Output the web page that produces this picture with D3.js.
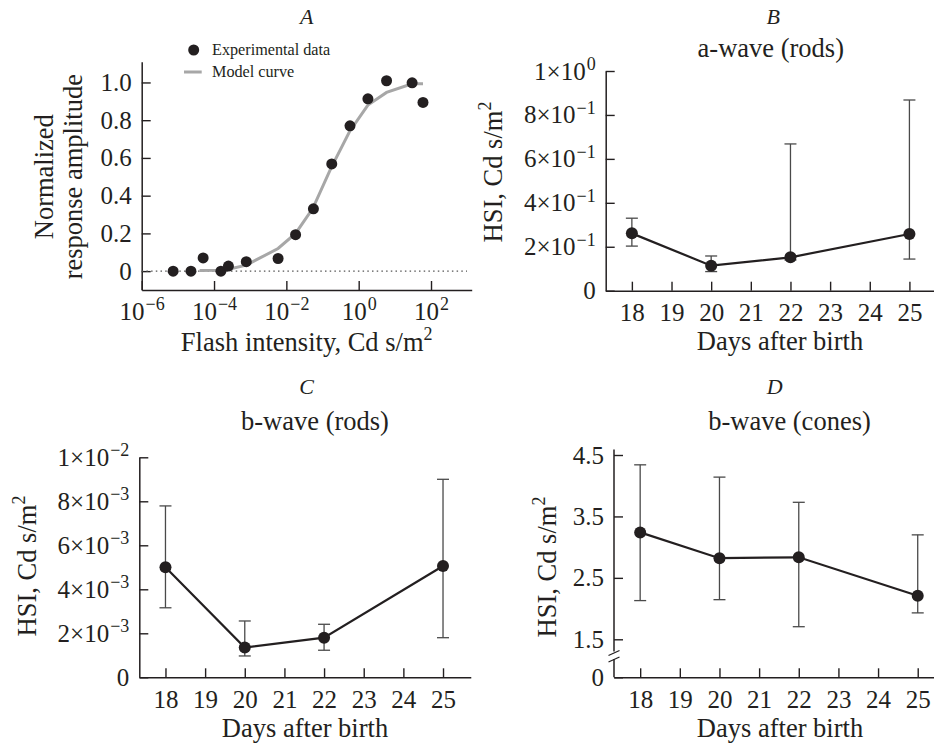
<!DOCTYPE html>
<html>
<head>
<meta charset="utf-8">
<script src="https://cdn.jsdelivr.net/npm/d3@7/dist/d3.min.js"></script>
<style>
  body { margin: 0; background: #fff; }
  svg text { font-family: 'Liberation Serif', 'DejaVu Serif', serif !important; fill: #231f20; }
</style>
</head>
<body>
<svg id="fig" width="934" height="747" font-family="Liberation Serif"></svg>
<script>
// ---- data ----

// panel A: flash intensity (Cd s/m2) vs normalized response
const flashIntensity = [7.4e-6, 2.3e-5, 5.0e-5, 1.55e-4, 2.5e-4, 7.8e-4, 5.9e-3, 1.8e-2, 5.6e-2, 0.18, 0.575, 1.8, 5.9, 30, 60];
const responseAmp    = [0, 0, 0.07, 0, 0.027, 0.05, 0.067, 0.193, 0.33, 0.568, 0.77, 0.913, 1.009, 0.998, 0.894];
const modelIntensity = [4.0e-5, 1.55e-4, 2.5e-4, 7.8e-4, 5.9e-3, 1.8e-2, 5.4e-2, 0.17, 0.56, 1.8, 5.9, 30, 60];
const modelAmp       = [0.003, 0.005, 0.01, 0.032, 0.12, 0.20, 0.333, 0.545, 0.74, 0.88, 0.947, 0.993, 0.993];
const flashTicks = [1e-6, 1e-4, 1e-2, 1e0, 1e2];
const flashTickExp = ["\u22126", "\u22124", "\u22122", "0", "2"];
const ampTicks = [0, 0.2, 0.4, 0.6, 0.8, 1.0];
const ampTickLabels = ["0", "0.2", "0.4", "0.6", "0.8", "1.0"];

// panels B-D: days after birth
const days = [18, 20, 22, 25];
const dayTicks = [18, 19, 20, 21, 22, 23, 24, 25];

const aWaveRods     = [0.261, 0.114, 0.152, 0.258];
const aWaveRodsLow  = [0.203, 0.087, 0.140, 0.144];
const aWaveRodsHigh = [0.330, 0.158, 0.668, 0.868];
const aTicks = [0, 0.2, 0.4, 0.6, 0.8, 1.0];
const aTickBase = ["0", "2\u00d710", "4\u00d710", "6\u00d710", "8\u00d710", "1\u00d710"];
const aTickExp  = ["", "\u22121", "\u22121", "\u22121", "\u22121", "0"];

const bWaveRods     = [0.00500, 0.00135, 0.00180, 0.00506];
const bWaveRodsLow  = [0.00316, 0.00097, 0.00123, 0.00180];
const bWaveRodsHigh = [0.00779, 0.00256, 0.00241, 0.00900];
const bTicks = [0, 0.002, 0.004, 0.006, 0.008, 0.01];
const bTickBase = ["0", "2\u00d710", "4\u00d710", "6\u00d710", "8\u00d710", "1\u00d710"];
const bTickExp  = ["", "\u22123", "\u22123", "\u22123", "\u22123", "\u22122"];

const bWaveCones     = [3.24, 2.82, 2.835, 2.21];
const bWaveConesLow  = [2.13, 2.145, 1.705, 1.93];
const bWaveConesHigh = [4.34, 4.14, 3.73, 3.20];
const cTicks = [0, 1.5, 2.5, 3.5, 4.5];
const cTickLabels = ["0", "1.5", "2.5", "3.5", "4.5"];

// ---- drawing ----
const svg = d3.select("#fig");
const ink = "#231f20";
const serif = "'Liberation Serif', 'DejaVu Serif', serif";
const tickFont = 25, titleFont = 26.5;

function supText(sel, base, exp, size) {
  sel.text(null);
  sel.append("tspan").text(base);
  if (exp) {
    sel.append("tspan")
      .attr("font-size", size * 0.72)
      .attr("dx", 1)
      .attr("dy", -size * 0.38)
      .text(exp);
  }
}

function styleAxis(g) {
  g.attr("font-family", serif);
  g.select(".domain").attr("stroke", ink).attr("stroke-width", 1.5);
  g.selectAll(".tick line").attr("stroke", ink).attr("stroke-width", 1.4);
  g.selectAll("text").attr("font-family", serif).attr("font-size", tickFont).attr("fill", ink);
}

function panelHeader(cx, letter, subtitle, yLetter, ySub) {
  svg.append("text").attr("x", cx.letter).attr("y", yLetter)
    .attr("text-anchor", "middle").attr("font-style", "italic").attr("font-size", 22)
    .text(letter);
  if (subtitle) {
    svg.append("text").attr("x", cx.sub).attr("y", ySub)
      .attr("text-anchor", "middle").attr("font-size", titleFont)
      .text(subtitle);
  }
}

function yTitleHSI(x, y) {
  const t = svg.append("text")
    .attr("transform", "translate(" + x + "," + y + ") rotate(-90)")
    .attr("text-anchor", "middle").attr("font-size", titleFont);
  t.append("tspan").text("HSI, Cd s/m");
  t.append("tspan").attr("font-size", titleFont * 0.68).attr("dy", -titleFont * 0.42).text("2");
}

function xTitleDays(x, y) {
  svg.append("text").attr("x", x).attr("y", y)
    .attr("text-anchor", "middle").attr("font-size", titleFont)
    .text("Days after birth");
}

// ---------- Panel A ----------
{
  const x = d3.scaleLog().domain([1e-6, Math.pow(10, 3.125)]).range([141.7, 471.7]);
  const y = d3.scaleLinear().domain([-0.1, 1.11]).range([290, 61.7]);

  const xAxis = svg.append("g").attr("transform", "translate(0,290)")
    .call(d3.axisBottom(x).tickValues(flashTicks).tickSizeInner(-9).tickSizeOuter(0).tickPadding(12));
  styleAxis(xAxis);
  xAxis.selectAll(".tick text").each(function (d, i) {
    supText(d3.select(this), "10", flashTickExp[i], tickFont);
  });

  const yAxis = svg.append("g").attr("transform", "translate(141.7,0)")
    .call(d3.axisLeft(y).tickValues(ampTicks).tickSizeInner(-9).tickSizeOuter(0).tickPadding(10)
      .tickFormat((d, i) => ampTickLabels[i]));
  styleAxis(yAxis);

  // zero reference line
  svg.append("line")
    .attr("x1", x.range()[0]).attr("x2", 467).attr("y1", y(0)).attr("y2", y(0))
    .attr("stroke", "#555").attr("stroke-width", 1.2).attr("stroke-dasharray", "1.5,3.2");

  // model curve
  const model = modelIntensity.map((v, i) => [v, modelAmp[i]]);
  svg.append("path").datum(model)
    .attr("fill", "none").attr("stroke", "#a7a7a7").attr("stroke-width", 3)
    .attr("d", d3.line().x(d => x(d[0])).y(d => y(d[1])));

  // data points
  svg.append("g").selectAll("circle")
    .data(flashIntensity.map((v, i) => [v, responseAmp[i]]))
    .join("circle")
    .attr("cx", d => x(d[0])).attr("cy", d => y(d[1])).attr("r", 5.5)
    .attr("fill", ink);

  // legend
  svg.append("circle").attr("cx", 193.7).attr("cy", 50).attr("r", 5.5).attr("fill", ink);
  svg.append("text").attr("x", 212).attr("y", 55).attr("font-size", 16.2).text("Experimental data");
  svg.append("line").attr("x1", 184).attr("x2", 201.7).attr("y1", 72).attr("y2", 72)
    .attr("stroke", "#a7a7a7").attr("stroke-width", 3);
  svg.append("text").attr("x", 212).attr("y", 76.5).attr("font-size", 16.2).text("Model curve");

  // titles
  panelHeader({ letter: 306.7 }, "A", null, 24, 0);
  const xt = svg.append("text").attr("x", 306.7).attr("y", 351)
    .attr("text-anchor", "middle").attr("font-size", titleFont);
  xt.append("tspan").text("Flash intensity, Cd s/m");
  xt.append("tspan").attr("font-size", titleFont * 0.68).attr("dy", -titleFont * 0.42).text("2");

  const yt = svg.append("text")
    .attr("transform", "translate(53,176.7) rotate(-90)")
    .attr("text-anchor", "middle").attr("font-size", titleFont);
  yt.append("tspan").attr("x", 0).attr("y", 0).text("Normalized");
  yt.append("tspan").attr("x", 0).attr("y", 29).text("response amplitude");
}

// ---------- helper for the day panels ----------
function dayPanel(opt) {
  const x = d3.scaleLinear().domain([17.34, 25.7]).range([opt.left, opt.left + 8.36 * 39.65]);
  const y = opt.y;

  const xAxis = svg.append("g").attr("transform", "translate(0," + opt.bottom + ")")
    .call(d3.axisBottom(x).tickValues(dayTicks).tickSizeInner(-9).tickSizeOuter(0).tickPadding(12.5)
      .tickFormat(d3.format("d")));
  styleAxis(xAxis);

  const yAxis = svg.append("g").attr("transform", "translate(" + opt.left + ",0)")
    .call(d3.axisLeft(y).tickValues(opt.ticks).tickSizeInner(-9).tickSizeOuter(0).tickPadding(10)
      .tickFormat(() => ""));
  styleAxis(yAxis);
  yAxis.selectAll(".tick text").each(function (d, i) {
    supText(d3.select(this), opt.tickBase[i], opt.tickExp ? opt.tickExp[i] : "", tickFont);
  });
  if (opt.yTop !== undefined) {
    yAxis.select(".domain").attr("d", "M0," + opt.yTop + "V" + opt.bottom);
  }

  // error bars
  const eb = svg.append("g").attr("stroke", "#4a4a4a").attr("stroke-width", 1.3);
  days.forEach((d, i) => {
    const cx = x(d);
    eb.append("line").attr("x1", cx).attr("x2", cx).attr("y1", y(opt.low[i])).attr("y2", y(opt.high[i]));
    eb.append("line").attr("x1", cx - 6).attr("x2", cx + 6).attr("y1", y(opt.low[i])).attr("y2", y(opt.low[i]));
    eb.append("line").attr("x1", cx - 6).attr("x2", cx + 6).attr("y1", y(opt.high[i])).attr("y2", y(opt.high[i]));
  });

  svg.append("path").datum(days.map((d, i) => [d, opt.mean[i]]))
    .attr("fill", "none").attr("stroke", ink).attr("stroke-width", 2.2)
    .attr("d", d3.line().x(d => x(d[0])).y(d => y(d[1])));

  svg.append("g").selectAll("circle")
    .data(days.map((d, i) => [d, opt.mean[i]]))
    .join("circle")
    .attr("cx", d => x(d[0])).attr("cy", d => y(d[1])).attr("r", 6)
    .attr("fill", ink);

  return { x, y, yAxis };
}

// ---------- Panel B ----------
dayPanel({
  left: 605.7, bottom: 290.7,
  y: d3.scaleLinear().domain([0, 1]).range([290.7, 71]),
  ticks: aTicks, tickBase: aTickBase, tickExp: aTickExp,
  mean: aWaveRods, low: aWaveRodsLow, high: aWaveRodsHigh
});
panelHeader({ letter: 773.3, sub: 770.8 }, "B", "a-wave (rods)", 23.5, 57);
yTitleHSI(502, 172);
xTitleDays(780, 350);

// ---------- Panel C ----------
dayPanel({
  left: 139.3, bottom: 677.3,
  y: d3.scaleLinear().domain([0, 0.01]).range([677.3, 457.3]),
  ticks: bTicks, tickBase: bTickBase, tickExp: bTickExp,
  mean: bWaveRods, low: bWaveRodsLow, high: bWaveRodsHigh
});
panelHeader({ letter: 306.7, sub: 315 }, "C", "b-wave (rods)", 393.5, 429.5);
yTitleHSI(36, 566);
xTitleDays(305, 737);

// ---------- Panel D (broken axis) ----------
{
  dayPanel({
    left: 614, bottom: 677.3, yTop: 449.5,
    y: d3.scaleLinear().domain([0, 1.5, 4.5]).range([677.3, 639.3, 455]),
    ticks: cTicks, tickBase: cTickLabels,
    mean: bWaveCones, low: bWaveConesLow, high: bWaveConesHigh
  });
  // gap and break marks on the y axis
  svg.append("line").attr("x1", 614).attr("x2", 614).attr("y1", 651.5).attr("y2", 659)
    .attr("stroke", "#fff").attr("stroke-width", 3);
  svg.append("g").attr("stroke", ink).attr("stroke-width", 1.3)
    .selectAll("line").data([0, 6.5]).join("line")
    .attr("x1", 608.5).attr("x2", 619.5)
    .attr("y1", d => 655.5 + d).attr("y2", d => 650.5 + d);
}
panelHeader({ letter: 774.7, sub: 789.5 }, "D", "b-wave (cones)", 393.5, 430);
yTitleHSI(556, 567);
xTitleDays(780, 737);
</script>
</body>
</html>
